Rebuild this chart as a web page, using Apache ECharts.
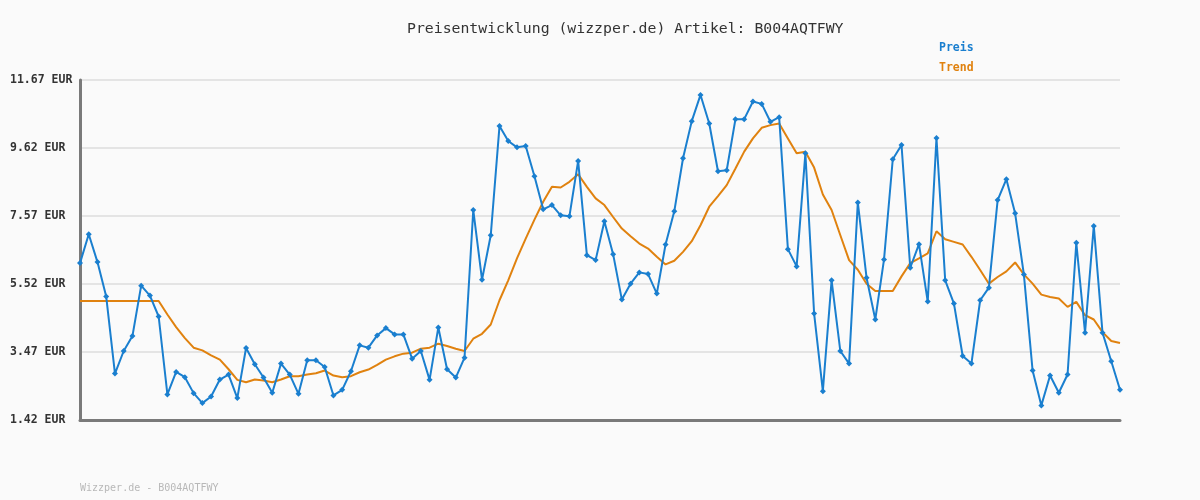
<!DOCTYPE html>
<html>
<head>
<meta charset="utf-8">
<script src="https://cdn.jsdelivr.net/npm/echarts@6/dist/echarts.min.js"></script>
<style>html,body{margin:0;padding:0;background:#fafafa;}#c{width:1200px;height:500px;}</style>
</head>
<body>
<div id="c"></div>
<script>
const categories = Array.from({length: 120}, (_, i) => String(i + 1));
const preis = [
6.15,7.02,6.18,5.14,2.82,3.50,3.95,5.47,5.17,4.54,
2.19,2.87,2.71,2.23,1.93,2.13,2.64,2.79,2.08,3.59,
3.10,2.70,2.24,3.12,2.79,2.21,3.22,3.22,3.02,2.16,
2.33,2.89,3.67,3.60,3.97,4.19,4.00,4.00,3.27,3.50,
2.63,4.21,2.95,2.70,3.30,7.75,5.65,6.99,10.28,9.83,
9.64,9.68,8.77,7.77,7.90,7.59,7.56,9.23,6.39,6.24,
7.41,6.42,5.05,5.53,5.87,5.82,5.23,6.71,7.71,9.31,
10.43,11.22,10.36,8.92,8.95,10.49,10.49,11.02,10.95,10.41,
10.55,6.57,6.05,9.46,4.63,2.29,5.63,3.50,3.12,7.98,
5.71,4.45,6.26,9.28,9.71,6.01,6.72,4.99,9.92,5.63,
4.93,3.35,3.12,5.03,5.41,8.05,8.68,7.65,5.81,2.91,
1.86,2.76,2.24,2.79,6.76,4.05,7.27,4.05,3.19,2.33
];
const trend = [
5.01,5.01,5.01,5.01,5.01,5.01,5.01,5.01,5.01,5.01,
4.60,4.22,3.89,3.60,3.52,3.37,3.24,2.95,2.63,2.56,
2.64,2.61,2.56,2.64,2.74,2.74,2.79,2.83,2.91,2.76,
2.71,2.74,2.86,2.94,3.08,3.24,3.34,3.42,3.45,3.57,
3.60,3.72,3.65,3.57,3.50,3.87,4.02,4.30,5.03,5.63,
6.29,6.89,7.46,8.00,8.45,8.43,8.60,8.83,8.45,8.10,
7.90,7.54,7.19,6.96,6.74,6.59,6.34,6.11,6.22,6.49,
6.81,7.29,7.85,8.17,8.50,9.00,9.51,9.91,10.23,10.31,
10.36,9.91,9.46,9.51,9.03,8.22,7.75,6.99,6.24,5.95,
5.53,5.31,5.31,5.31,5.75,6.15,6.29,6.44,7.11,6.87,
6.79,6.71,6.34,5.94,5.53,5.73,5.90,6.17,5.81,5.53,
5.20,5.13,5.08,4.83,4.98,4.58,4.45,4.07,3.80,3.74
];
const yMin = 1.42, yMax = 11.67, yStep = 2.05;
const titleText = 'Preisentwicklung (wizzper.de) Artikel: B004AQTFWY';
const footerText = 'Wizzper.de - B004AQTFWY';
const mono = '"DejaVu Sans Mono", monospace';

const chart = echarts.init(document.getElementById('c'));
chart.setOption({
  backgroundColor: '#fafafa',
  animation: false,
  title: {
    text: titleText, left: 402, top: 17,
    textStyle: { fontFamily: mono, fontSize: 14.8, fontWeight: 'normal', color: '#333' }
  },
  legend: {
    orient: 'vertical', left: 934, top: 37, itemGap: 8, itemWidth: 0, itemHeight: 0,
    icon: 'none', selectedMode: false,
    data: [
      { name: 'Preis', textStyle: { color: '#1a7fcf' } },
      { name: 'Trend', textStyle: { color: '#e0820f' } }
    ],
    textStyle: { fontFamily: mono, fontSize: 11.5, fontWeight: 'bold', padding: [0,0,0,-5] }
  },
  graphic: [{
    type: 'text', left: 80, top: 483,
    style: { text: footerText, fill: '#b8b8b8', font: '10px ' + mono }
  }],
  grid: { left: 80, right: 80, top: 80, bottom: 80, containLabel: false },
  xAxis: {
    type: 'category', data: categories, boundaryGap: false,
    axisLine: { lineStyle: { color: '#7a7a7a', width: 3 } },
    axisTick: { show: false }, axisLabel: { show: false }, splitLine: { show: false }
  },
  yAxis: {
    type: 'value', min: yMin, max: yMax, interval: yStep,
    axisLine: { show: true, lineStyle: { color: '#7a7a7a', width: 3 } },
    axisTick: { show: false },
    axisLabel: {
      margin: 70, align: 'left', color: '#333',
      fontFamily: mono, fontSize: 11.5, fontWeight: 'bold',
      formatter: v => v.toFixed(2) + ' EUR'
    },
    splitLine: { lineStyle: { color: '#e4e4e4', width: 2 } }
  },
  series: [
    {
      name: 'Preis', type: 'line', data: preis,
      symbol: 'diamond', symbolSize: 6, showSymbol: true, showAllSymbol: true,
      itemStyle: { color: '#1a7fcf' },
      lineStyle: { color: '#1a7fcf', width: 2 }, z: 3
    },
    {
      name: 'Trend', type: 'line', data: trend,
      symbol: 'none',
      itemStyle: { color: '#e0820f' },
      lineStyle: { color: '#e0820f', width: 2 }, z: 2
    }
  ]
});
</script>
</body>
</html>
